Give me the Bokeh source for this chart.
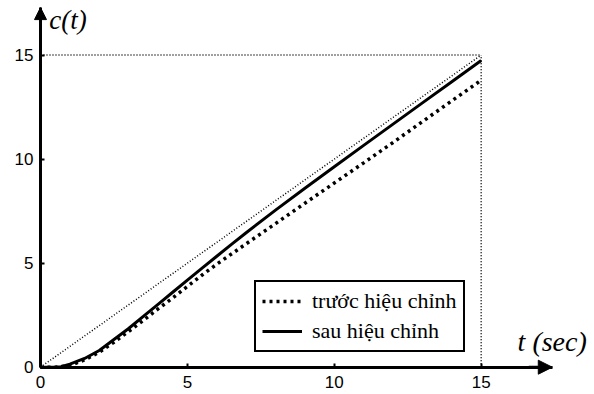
from bokeh.plotting import figure
from bokeh.models import Range1d, FixedTicker, Arrow, NormalHead, Label, Legend, LegendItem
from bokeh.embed import file_html
from bokeh.resources import INLINE

# ---- data ----
t_before = [0, 0.5, 1, 1.5, 2, 2.5, 3, 3.5, 4, 4.5, 5, 5.5, 6, 7, 8, 9, 10, 11, 12, 13, 14, 15]
c_before = [0, 0, 0.08, 0.35, 0.72, 1.2, 1.72, 2.25, 2.8, 3.33, 3.88, 4.43, 4.95, 5.93, 6.9, 7.88,
            8.85, 9.82, 10.8, 11.8, 12.8, 13.79]
t_after = [0, 0.5, 0.7, 1, 1.5, 2, 2.5, 3, 3.5, 4, 4.5, 5, 5.5, 6, 6.5, 7, 8, 9, 10, 11, 12, 13, 14, 15]
c_after = [0, 0, 0.02, 0.15, 0.42, 0.8, 1.33, 1.86, 2.44, 3.02, 3.6, 4.18, 4.76, 5.33, 5.9, 6.46,
           7.55, 8.6, 9.63, 10.66, 11.68, 12.7, 13.72, 14.74]
ref_t = [0, 15]
ref_c = [0, 15]
t_final = 15
c_level = 15
ticks = [0, 5, 10, 15]
x_label = "t (sec)"
y_label = "c(t)"
legend_labels = ["trước hiệu chỉnh", "sau hiệu chỉnh"]

X_TIP = 17.42
Y_TIP = 17.28

SANS = "'Liberation Sans', Arimo, Roboto, sans-serif"
SERIF = "'Liberation Serif', 'Times New Roman', Tinos, serif"

p = figure(width=594, height=394, output_backend="svg", toolbar_location=None,
           x_range=Range1d(-1.3615, 18.857), y_range=Range1d(-1.312, 17.621),
           min_border_left=0, min_border_right=0, min_border_top=0, min_border_bottom=0)
p.outline_line_color = None
p.grid.visible = False
p.background_fill_color = "white"
p.border_fill_color = "white"

p.xaxis.fixed_location = 0
p.yaxis.fixed_location = 0
p.xaxis.bounds = (0, X_TIP)
p.yaxis.bounds = (0, Y_TIP)
p.axis.ticker = FixedTicker(ticks=ticks)
p.axis.axis_line_width = 3
p.axis.axis_line_color = "black"
p.axis.major_tick_in = 4
p.axis.major_tick_out = 0
p.axis.major_tick_line_width = 2
p.axis.minor_tick_line_color = None
p.axis.major_label_text_font = SANS
p.axis.major_label_text_font_size = "17px"
p.axis.major_label_text_color = "black"
p.xaxis.major_label_standoff = 9
p.yaxis.major_label_standoff = 7

# reference dotted lines
p.line(ref_t, ref_c, line_color="black", line_width=1.5, line_dash="1 2")
p.line([0, t_final], [c_level, c_level], line_color="black", line_width=1.5, line_dash="1 2")
p.line([t_final, t_final], [0, c_level], line_color="black", line_width=1.5, line_dash="1 2")

r_before = p.line(t_before, c_before, line_color="black", line_width=3.5, line_dash="3 4")
r_after = p.line(t_after, c_after, line_color="black", line_width=3)

legend = Legend(items=[LegendItem(label=legend_labels[0], renderers=[r_before]),
                       LegendItem(label=legend_labels[1], renderers=[r_after])],
                location=(254, 394 - 352))
legend.label_text_font = SERIF
legend.label_text_font_size = "22px"
legend.label_text_color = "black"
legend.border_line_color = "black"
legend.border_line_alpha = 1
legend.border_line_width = 2
legend.padding = 6
legend.spacing = 4
legend.glyph_width = 40
legend.glyph_height = 20
legend.label_height = 20
legend.label_standoff = 10
legend.margin = 0
legend.background_fill_alpha = 1
p.add_layout(legend)

# axis arrow heads
p.add_layout(Arrow(end=NormalHead(size=14, fill_color="black", line_color="black"),
                   x_start=X_TIP - 0.8, y_start=0, x_end=X_TIP, y_end=0,
                   line_color="black", line_width=3))
p.add_layout(Arrow(end=NormalHead(size=12, fill_color="black", line_color="black"),
                   x_start=0, y_start=Y_TIP - 0.8, x_end=0, y_end=Y_TIP,
                   line_color="black", line_width=3))

p.add_layout(Label(x=0.3, y=15.95, text=y_label, text_font=SERIF,
                   text_font_style="italic", text_font_size="27px", text_color="black"))
p.add_layout(Label(x=16.24, y=0.5, text=x_label, text_font=SERIF,
                   text_font_style="italic", text_font_size="28px", text_color="black"))

open("out.html", "w").write(file_html(p, INLINE))
